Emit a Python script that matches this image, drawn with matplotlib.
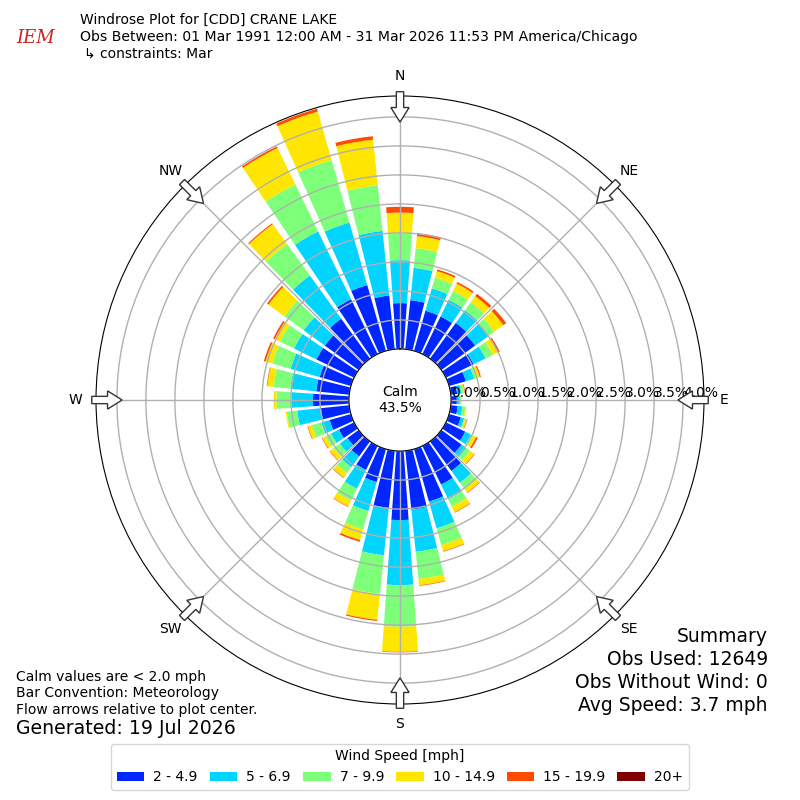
import numpy as np
import matplotlib
matplotlib.use("Agg")
import matplotlib.pyplot as plt
from matplotlib.patches import Patch, FancyArrow

# direction bins (degrees, meteorological) and percent frequency per speed bin
directions = np.arange(0, 360, 10)

speed_2_5 = [0.79, 0.85, 0.72, 0.72, 0.76, 0.72, 0.53, 0.30, 0.11, 0.10,
             0.12, 0.21, 0.37, 0.43, 0.63, 0.74, 0.94, 1.02, 1.19, 0.99,
             0.59, 0.46, 0.32, 0.24, 0.29, 0.38, 0.49, 0.62, 0.57, 0.56,
             0.72, 0.72, 0.85, 1.05, 1.18, 0.93]
speed_5_7 = [0.74, 0.56, 0.40, 0.32, 0.27, 0.28, 0.23, 0.15, 0.07, 0.05,
             0.08, 0.06, 0.11, 0.10, 0.25, 0.28, 0.48, 0.73, 1.12, 0.82,
             0.52, 0.36, 0.23, 0.16, 0.15, 0.15, 0.41, 0.37, 0.45, 0.52,
             0.43, 0.45, 0.92, 1.30, 1.12, 1.12]
speed_7_10 = [0.46, 0.34, 0.19, 0.17, 0.17, 0.13, 0.14, 0.05, 0.04, 0.02,
              0.05, 0.02, 0.04, 0.08, 0.13, 0.14, 0.30, 0.47, 0.72, 0.67,
              0.33, 0.23, 0.13, 0.13, 0.11, 0.17, 0.18, 0.26, 0.29, 0.33,
              0.27, 0.41, 0.67, 0.90, 1.12, 0.79]
speed_10_15 = [0.36, 0.21, 0.12, 0.14, 0.13, 0.19, 0.10, 0.05, 0.02, 0.01,
               0.02, 0.03, 0.06, 0.09, 0.08, 0.11, 0.11, 0.11, 0.43, 0.45,
               0.19, 0.11, 0.09, 0.08, 0.06, 0.07, 0.02, 0.05, 0.11, 0.12,
               0.10, 0.34, 0.42, 0.70, 0.87, 0.79]
speed_15_20 = [0.10, 0.05, 0.03, 0.03, 0.05, 0.06, 0.03, 0.02, 0.01, 0.00,
               0.00, 0.01, 0.03, 0.01, 0.01, 0.01, 0.01, 0.01, 0.01, 0.02,
               0.03, 0.01, 0.01, 0.01, 0.01, 0.01, 0.00, 0.00, 0.01, 0.03,
               0.03, 0.03, 0.02, 0.03, 0.05, 0.06]
speed_20 = [0.0] * 36

speed_bins = [speed_2_5, speed_5_7, speed_7_10, speed_10_15, speed_15_20, speed_20]
speed_labels = ["2 - 4.9", "5 - 6.9", "7 - 9.9", "10 - 14.9", "15 - 19.9", "20+"]
colors = ["#0026ff", "#00d4ff", "#7dff7a", "#ffe600", "#ff4a00", "#800000"]

calm_pct = 43.5
ring_ticks = np.arange(0, 4.01, 0.5)
compass = ["N", "NE", "E", "SE", "S", "SW", "W", "NW"]

fig = plt.figure(figsize=(8, 8), dpi=100)
ax = fig.add_axes([0.12, 0.12, 0.76, 0.76], projection="polar")
ax.set_theta_zero_location("N")
ax.set_theta_direction(-1)

theta = np.radians(directions)
width = np.radians(8.2)
bottom = np.zeros(len(directions))
for vals, c in zip(speed_bins, colors):
    vals = np.array(vals)
    ax.bar(theta, vals, width=width, bottom=bottom, color=c, edgecolor="none")
    bottom += vals

ax.set_ylim(0, 4.36)
ax.set_rorigin(-0.88)
ax.set_yticks(ring_ticks)
ax.set_yticklabels([])
ax.set_xticks(np.radians(np.arange(0, 360, 45)))
ax.set_xticklabels(compass, fontsize=10)
ax.tick_params(axis="x", pad=4)
ax.grid(True, color="#b0b0b0", lw=1)

for t in ring_ticks:
    ax.text(np.radians(90), t, f"{t:.1f}%", ha="left", va="bottom", fontsize=10)

ax.text(0.5, 0.5, f"Calm\n{calm_pct}%", transform=ax.transAxes,
        ha="center", va="center", fontsize=10)

# hollow flow arrows on the rim
for ang in np.radians(np.arange(0, 360, 45)):
    ux, uy = np.sin(ang), np.cos(ang)
    arr = FancyArrow(0.5 + 0.507 * ux, 0.5 + 0.507 * uy, -0.05 * ux, -0.05 * uy,
                     width=0.012, head_width=0.03, head_length=0.024,
                     length_includes_head=True, fc="white", ec="#333333", lw=1,
                     transform=ax.transAxes, clip_on=False, zorder=5)
    ax.add_artist(arr)

# header
fig.text(0.044, 0.953, "IEM", color="#cc2222", fontsize=13, style="italic",
         family="DejaVu Serif", ha="center", va="center")
fig.text(0.1, 0.975, "Windrose Plot for [CDD] CRANE LAKE", fontsize=10, va="center")
fig.text(0.1, 0.954, "Obs Between: 01 Mar 1991 12:00 AM - 31 Mar 2026 11:53 PM America/Chicago",
         fontsize=10.1, va="center")
fig.text(0.105, 0.933, "\u21b3 constraints: Mar", fontsize=10, va="center")

# footer notes
fig.text(0.02, 1 - 677 / 800, "Calm values are < 2.0 mph", fontsize=10, va="center")
fig.text(0.02, 1 - 693 / 800, "Bar Convention: Meteorology", fontsize=10, va="center")
fig.text(0.02, 1 - 710 / 800, "Flow arrows relative to plot center.", fontsize=10, va="center")
fig.text(0.02, 1 - 729 / 800, "Generated: 19 Jul 2026", fontsize=13.6, va="center")

summary = ["Summary", "Obs Used: 12649", "Obs Without Wind: 0", "Avg Speed: 3.7 mph"]
for i, line in enumerate(summary):
    fig.text(0.96, 1 - (636 + 23.3 * i) / 800, line, fontsize=13.5, ha="right", va="center")

handles = [Patch(facecolor=c) for c in colors]
fig.legend(handles, speed_labels, loc="lower center", bbox_to_anchor=(0.5, 0.004),
           ncol=6, title="Wind Speed [mph]", fontsize=10, title_fontsize=10,
           columnspacing=0.85, handletextpad=0.65, handleheight=0.65)

fig.savefig("out.png", dpi=100)
